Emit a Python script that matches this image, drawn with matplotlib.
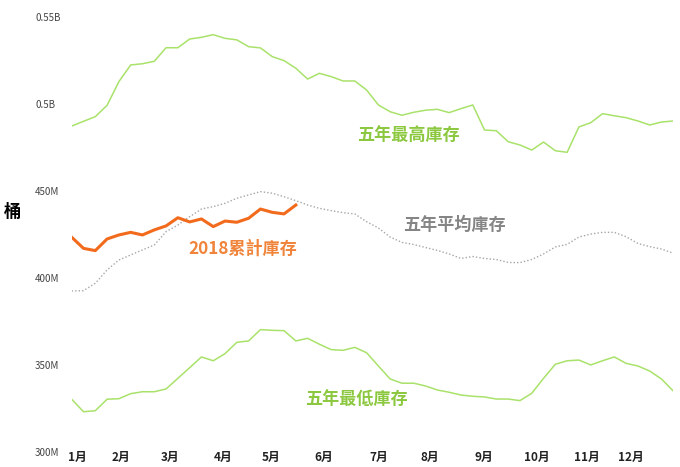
'''Weekly crude inventory: 2018 vs five-year max / avg / min'''
import matplotlib
matplotlib.use('Agg')
import matplotlib.pyplot as plt
import numpy as np

plt.rcParams['font.family'] = ['Noto Sans CJK TC', 'DejaVu Sans']

# weekly values, million barrels
five_year_max = [487.5, 490.2, 492.9, 499.4, 513.0, 522.6, 523.3, 524.7, 532.5, 532.5,
                 537.5, 538.5, 540.0, 537.9, 537.0, 533.1, 532.4, 527.4, 525.1, 520.7,
                 514.5, 517.8, 515.9, 513.4, 513.4, 508.2, 499.6, 495.7, 493.7, 495.4,
                 496.6, 497.1, 495.2, 497.5, 499.6, 485.2, 484.8, 478.5, 476.6, 473.7,
                 478.3, 473.3, 472.4, 487.0, 489.4, 494.6, 493.4, 492.3, 490.4, 488.1,
                 489.8, 490.4]
five_year_avg = [392.7, 392.9, 397.1, 404.8, 410.5, 413.4, 416.3, 419.1, 426.8, 430.6,
                 435.4, 439.8, 441.2, 443.1, 446.0, 447.9, 449.8, 448.9, 446.9, 444.6,
                 442.1, 440.2, 438.9, 437.7, 437.0, 432.5, 428.9, 423.7, 420.6, 419.4,
                 417.7, 416.0, 414.0, 411.4, 412.5, 411.4, 410.8, 409.1, 409.0, 410.8,
                 414.0, 418.0, 419.5, 423.7, 425.4, 426.4, 426.4, 423.9, 420.0, 418.2,
                 416.8, 414.4]
five_year_min = [330.5, 323.3, 323.9, 330.5, 330.8, 333.7, 334.8, 334.8, 336.4, 342.5,
                 348.6, 354.8, 352.6, 356.7, 363.2, 364.0, 370.5, 370.1, 369.9, 364.0,
                 365.5, 362.1, 359.0, 358.6, 360.3, 357.2, 349.6, 342.1, 339.7, 339.7,
                 338.1, 335.8, 334.5, 332.9, 332.2, 331.8, 330.6, 330.6, 329.7, 333.9,
                 342.5, 350.6, 352.6, 353.0, 350.2, 352.6, 354.8, 351.1, 349.6, 346.7,
                 342.1, 335.2]
stock_2018 = [423.6, 417.2, 415.9, 422.6, 424.9, 426.4, 424.9, 427.8, 430.1, 434.8,
              432.4, 434.1, 429.7, 432.9, 432.2, 434.5, 439.8, 437.9, 437.0, 442.1]

month_labels = ['1月', '2月', '3月', '4月', '5月', '6月',
                '7月', '8月', '9月', '10月', '11月', '12月']
month_pos = [0.45, 4.2, 8.3, 12.8, 16.9, 21.35, 26.0, 30.4, 34.9, 39.4, 43.7, 47.4]
y_ticks = [300, 350, 400, 450, 500, 550]
y_labels = ['300M', '350M', '400M', '450M', '0.5B', '0.55B']

GREEN_LINE = '#a9e26a'
GREEN_TEXT = '#8cc83f'
ORANGE = '#f26b1d'

fig = plt.figure(figsize=(6.8, 4.67), dpi=100)
ax = fig.add_axes([71.7 / 680, 0.0315, (673.3 - 71.7) / 680, 0.9315])

weeks = np.arange(len(five_year_max))
ax.plot(weeks, five_year_max, color=GREEN_LINE, lw=1.1)
ax.plot(weeks, five_year_min, color=GREEN_LINE, lw=1.1)
ax.plot(weeks, five_year_avg, color='#a6a6a6', lw=1.0, ls=(0, (1, 1.5)))
ax.plot(np.arange(len(stock_2018)), stock_2018, color=ORANGE, lw=2.2)

label_style = dict(fontsize=12.3, fontweight='bold', va='center')
ax.text(24.2, 482.0, '五年最高庫存', color=GREEN_TEXT, **label_style)
ax.text(28.1, 430.6, '五年平均庫存', color='#858585', **label_style)
ax.text(9.9, 417.2, '2018累計庫存', color='#f0843a', **label_style)
ax.text(19.8, 330.0, '五年最低庫存', color=GREEN_TEXT, **label_style)
fig.text(4 / 680, 1 - 212 / 467, '桶', fontsize=12.5, fontweight='bold',
         ha='left', va='center')

ax.set_xlim(0, len(five_year_max) - 1)
ax.set_ylim(300, 550)
ax.set_xticks(month_pos)
ax.set_xticklabels(month_labels, fontsize=8.5, fontweight='bold', color='#222222')
ax.set_yticks(y_ticks)
ax.set_yticklabels(y_labels, fontsize=7, color='#444444', ha='left')
ax.tick_params(axis='y', length=0, pad=26.4)
ax.tick_params(axis='x', length=0, pad=-1)
for spine in ax.spines.values():
    spine.set_visible(False)
ax.patch.set_alpha(0)

fig.savefig('out.png', dpi=100)
